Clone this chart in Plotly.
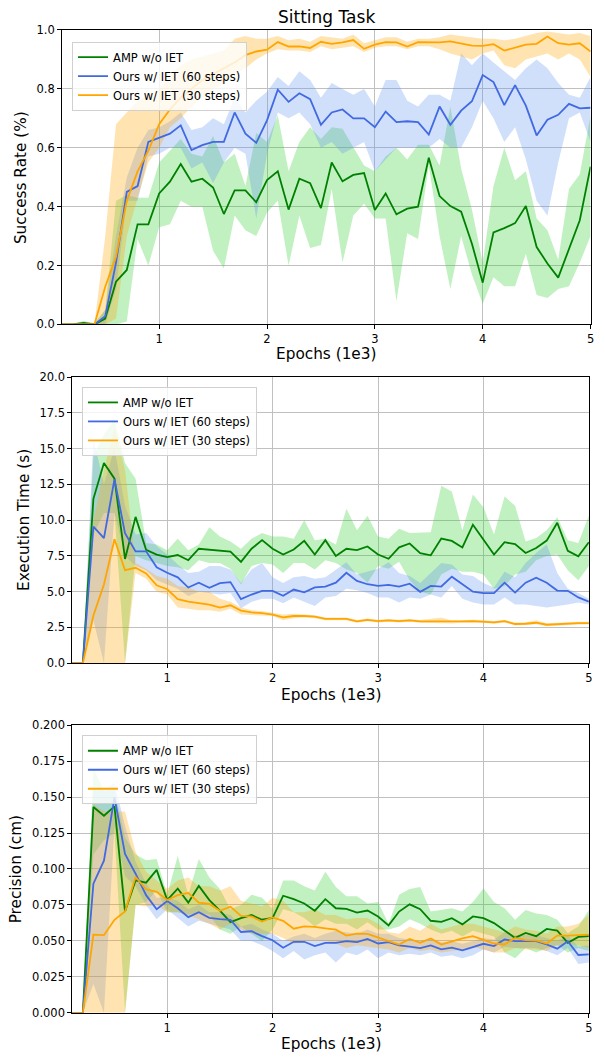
import plotly.graph_objects as go

# ---------------- data ----------------
EPOCHS = [0.1, 0.2, 0.3, 0.4, 0.5, 0.6, 0.7, 0.8, 0.9, 1.0,
          1.1, 1.2, 1.3, 1.4, 1.5, 1.6, 1.7, 1.8, 1.9, 2.0,
          2.1, 2.2, 2.3, 2.4, 2.5, 2.6, 2.7, 2.8, 2.9, 3.0,
          3.1, 3.2, 3.3, 3.4, 3.5, 3.6, 3.7, 3.8, 3.9, 4.0,
          4.1, 4.2, 4.3, 4.4, 4.5, 4.6, 4.7, 4.8, 4.9, 5.0]

SERIES_NAMES = ["AMP w/o IET", "Ours w/ IET (60 steps)", "Ours w/ IET (30 steps)"]
X_TICKS = [1, 2, 3, 4, 5]
X_TICK_LABELS = ["1", "2", "3", "4", "5"]

# --- Success rate ---
SR_AMP = [0.0, 0.0, 0.005, 0.0, 0.02, 0.145, 0.185, 0.34, 0.34, 0.445,
          0.485, 0.545, 0.485, 0.495, 0.465, 0.375, 0.455, 0.455, 0.415, 0.49,
          0.52, 0.39, 0.495, 0.48, 0.395, 0.55, 0.486, 0.508, 0.514, 0.389,
          0.445, 0.374, 0.393, 0.40, 0.566, 0.436, 0.402, 0.383, 0.274, 0.142,
          0.313, 0.327, 0.344, 0.402, 0.263, 0.207, 0.159, 0.257, 0.354, 0.536]
SR_AMP_LO = [0, 0, 0, 0, 0, 0.0, 0.01, 0.29, 0.2, 0.33,
             0.34, 0.42, 0.40, 0.40, 0.25, 0.19, 0.37, 0.32, 0.30, 0.38,
             0.42, 0.20, 0.37, 0.26, 0.27, 0.46, 0.21, 0.37, 0.41, 0.36,
             0.36, 0.08, 0.31, 0.29, 0.54, 0.30, 0.12, 0.30, 0.17, 0.07,
             0.16, 0.13, 0.13, 0.24, 0.10, 0.09, 0.12, 0.13, 0.21, 0.30]
SR_AMP_HI = [0, 0.003, 0.012, 0.005, 0.05, 0.42, 0.44, 0.43, 0.43, 0.55,
             0.59, 0.63, 0.58, 0.57, 0.64, 0.55, 0.58, 0.47, 0.65, 0.62,
             0.71, 0.52, 0.62, 0.67, 0.63, 0.67, 0.665, 0.60, 0.54, 0.52,
             0.57, 0.60, 0.56, 0.61, 0.61, 0.54, 0.74, 0.53, 0.39, 0.21,
             0.47, 0.60, 0.49, 0.52, 0.36, 0.32, 0.22, 0.46, 0.51, 0.71]

SR_60 = [0, 0, 0, 0, 0.028, 0.21, 0.45, 0.47, 0.62, 0.635,
         0.648, 0.676, 0.592, 0.609, 0.62, 0.62, 0.72, 0.648, 0.617, 0.693,
         0.797, 0.756, 0.785, 0.765, 0.678, 0.72, 0.73, 0.70, 0.70, 0.67,
         0.723, 0.687, 0.69, 0.687, 0.645, 0.74, 0.678, 0.726, 0.758, 0.847,
         0.823, 0.745, 0.813, 0.743, 0.642, 0.695, 0.712, 0.749, 0.734, 0.736]
SR_60_LO = [0, 0, 0, 0, 0.0, 0.12, 0.42, 0.42, 0.57, 0.58,
            0.60, 0.60, 0.53, 0.55, 0.48, 0.55, 0.60, 0.58, 0.36, 0.58,
            0.72, 0.70, 0.72, 0.68, 0.60, 0.62, 0.58, 0.60, 0.62, 0.52,
            0.56, 0.60, 0.60, 0.60, 0.60, 0.63, 0.60, 0.60, 0.67, 0.76,
            0.70, 0.62, 0.67, 0.56, 0.42, 0.37, 0.55, 0.70, 0.72, 0.62]
SR_60_HI = [0, 0, 0, 0, 0.05, 0.30, 0.50, 0.60, 0.66, 0.67,
            0.69, 0.72, 0.66, 0.67, 0.70, 0.68, 0.77, 0.72, 0.76, 0.79,
            0.84, 0.81, 0.86, 0.83, 0.77, 0.82, 0.80, 0.78, 0.80, 0.74,
            0.83, 0.83, 0.76, 0.74, 0.78, 0.78, 0.76, 0.92, 0.88, 0.92,
            0.89, 0.86, 0.83, 0.87, 0.90, 0.87, 0.82, 0.78, 0.77, 0.84]

SR_30 = [0, 0, 0, 0, 0.128, 0.23, 0.42, 0.52, 0.59, 0.68,
         0.73, 0.77, 0.80, 0.83, 0.85, 0.87, 0.89, 0.915, 0.927, 0.933,
         0.959, 0.944, 0.944, 0.939, 0.96, 0.953, 0.958, 0.966, 0.936, 0.95,
         0.959, 0.958, 0.944, 0.959, 0.958, 0.958, 0.961, 0.955, 0.947, 0.946,
         0.952, 0.93, 0.94, 0.95, 0.953, 0.978, 0.955, 0.95, 0.955, 0.927]
SR_30_LO = [0, 0, 0, 0, 0.0, 0.02, 0.30, 0.43, 0.55, 0.60,
            0.67, 0.70, 0.74, 0.77, 0.80, 0.82, 0.85, 0.87, 0.90, 0.92,
            0.935, 0.93, 0.93, 0.925, 0.945, 0.935, 0.94, 0.945, 0.925, 0.94,
            0.945, 0.945, 0.935, 0.945, 0.945, 0.935, 0.92, 0.91, 0.90, 0.92,
            0.93, 0.88, 0.87, 0.90, 0.91, 0.92, 0.90, 0.92, 0.90, 0.84]
SR_30_HI = [0, 0, 0, 0, 0.30, 0.68, 0.72, 0.76, 0.78, 0.80,
            0.85, 0.88, 0.90, 0.91, 0.92, 0.93, 0.97, 0.98, 0.97, 0.97,
            0.98, 0.965, 0.97, 0.96, 0.98, 0.975, 0.97, 0.985, 0.955, 0.965,
            0.975, 0.975, 0.96, 0.97, 0.97, 0.975, 0.985, 0.98, 0.975, 0.97,
            0.97, 0.965, 0.97, 0.98, 0.99, 0.995, 0.99, 0.985, 0.99, 0.98]

# --- Execution time ---
ET_AMP = [0, 0, 11.49, 14.0, 12.9, 7.29, 10.23, 7.93, 7.59, 7.42,
          7.56, 7.2, 8.0, 7.95, 7.85, 7.8, 7.08, 8.0, 8.6, 8.0,
          7.6, 7.95, 8.55, 7.6, 8.6, 7.5, 8.0, 7.9, 8.16, 7.6,
          7.3, 8.1, 8.37, 7.7, 7.54, 8.71, 8.55, 8.09, 9.68, 8.62,
          7.59, 8.46, 8.32, 7.7, 8.05, 8.57, 9.82, 7.86, 7.47, 8.46]
ET_AMP_LO = [0, 0, 9.0, 10.5, 10.5, 0.0, 7.5, 7.2, 7.0, 6.8,
             6.7, 6.5, 7.2, 7.0, 7.0, 6.6, 5.5, 6.8, 7.0, 6.9,
             6.3, 7.0, 7.0, 6.55, 7.2, 7.0, 6.55, 6.3, 5.6, 6.8,
             6.6, 7.1, 5.8, 5.0, 4.8, 6.2, 6.6, 6.4, 6.4, 6.2,
             5.2, 5.4, 6.2, 6.4, 7.2, 7.5, 7.6, 6.5, 5.8, 6.8]
ET_AMP_HI = [0, 0, 14.5, 16.0, 17.0, 14.0, 12.9, 8.4, 8.3, 7.9,
             8.7, 7.9, 8.3, 9.5, 8.85, 8.5, 8.0, 8.7, 9.1, 8.85,
             8.85, 8.7, 10.0, 8.6, 8.7, 8.3, 10.8, 9.3, 10.3, 8.85,
             8.7, 9.4, 9.1, 9.1, 9.15, 12.4, 12.0, 9.3, 11.8, 10.9,
             9.0, 11.65, 11.0, 8.5, 8.75, 9.3, 10.2, 8.6, 8.4, 10.3]

ET_60 = [0, 0, 9.54, 8.74, 12.87, 9.08, 7.82, 7.82, 6.71, 6.32,
         6.0, 5.29, 5.63, 5.27, 5.6, 5.67, 4.48, 4.8, 5.05, 5.05,
         4.71, 5.15, 4.95, 5.3, 5.35, 5.63, 6.32, 5.75, 5.52, 5.4,
         5.47, 5.36, 5.56, 4.99, 5.4, 5.36, 6.05, 5.52, 5.0, 4.9,
         4.9, 5.63, 4.94, 5.63, 5.98, 5.63, 5.08, 5.06, 4.6, 4.3]
ET_60_LO = [0, 0, 3.0, 0.0, 10.5, 7.5, 6.8, 6.5, 5.8, 5.5,
            5.2, 4.7, 5.0, 4.9, 4.8, 4.9, 3.84, 4.3, 4.5, 4.5,
            4.2, 4.6, 4.3, 4.0, 4.6, 4.7, 5.2, 5.1, 4.9, 4.6,
            4.6, 4.25, 4.6, 4.5, 4.8, 4.6, 5.4, 4.5, 4.25, 4.1,
            4.1, 4.6, 4.1, 4.1, 4.0, 3.9, 4.0, 4.1, 4.25, 4.1]
ET_60_HI = [0, 0, 15.7, 12.5, 15.0, 11.0, 9.0, 9.1, 8.2, 7.6,
            6.9, 6.3, 6.4, 6.8, 6.8, 6.55, 5.6, 6.55, 7.0, 6.0,
            5.6, 6.0, 6.1, 5.9, 6.0, 6.55, 7.06, 6.2, 6.4, 6.6,
            7.06, 6.3, 6.1, 5.6, 6.3, 7.0, 6.9, 6.2, 6.1, 5.6,
            5.3, 6.4, 6.0, 7.0, 7.7, 8.3, 6.3, 5.2, 4.9, 4.5]

ET_30 = [0, 0, 3.33, 5.5, 8.67, 6.5, 6.67, 6.28, 5.45, 5.17,
         4.48, 4.3, 4.2, 4.1, 3.89, 4.05, 3.68, 3.55, 3.5, 3.4,
         3.2, 3.3, 3.3, 3.25, 3.1, 3.08, 3.1, 2.92, 3.03, 2.94,
         2.99, 2.94, 2.99, 2.92, 2.92, 2.87, 2.87, 2.92, 2.94, 2.92,
         2.85, 2.94, 2.74, 2.76, 2.83, 2.69, 2.74, 2.78, 2.8, 2.8]
ET_30_LO = [0, 0, 0, 0, 0, 0, 6.3, 5.9, 5.0, 4.8,
            3.9, 3.8, 3.7, 3.7, 3.6, 3.8, 3.4, 3.4, 3.35, 3.3,
            3.0, 3.15, 3.2, 3.15, 3.0, 2.98, 3.0, 2.82, 2.93, 2.84,
            2.89, 2.84, 2.89, 2.82, 2.82, 2.77, 2.77, 2.82, 2.84, 2.82,
            2.75, 2.84, 2.64, 2.66, 2.73, 2.59, 2.64, 2.68, 2.7, 2.7]
ET_30_HI = [0, 0, 10.0, 13.5, 16.5, 13.5, 7.0, 6.6, 6.1, 5.9,
            5.4, 5.3, 5.0, 5.0, 4.5, 4.3, 3.9, 3.7, 3.65, 3.5,
            3.4, 3.45, 3.4, 3.35, 3.2, 3.18, 3.2, 3.02, 3.13, 3.04,
            3.09, 3.04, 3.09, 3.02, 3.1, 3.2, 2.97, 3.02, 3.04, 3.02,
            2.95, 3.04, 2.84, 2.86, 3.0, 2.79, 2.84, 2.88, 2.9, 2.9]

# --- Precision ---
PR_AMP = [0, 0, 0.1431, 0.137, 0.1435, 0.0704, 0.0921, 0.0905, 0.0994, 0.0784,
          0.0864, 0.0766, 0.0882, 0.0784, 0.0711, 0.063, 0.0658, 0.068, 0.0647, 0.066,
          0.0814, 0.079, 0.076, 0.071, 0.079, 0.0727, 0.0722, 0.0697, 0.0711, 0.067,
          0.0608, 0.0704, 0.0754, 0.072, 0.064, 0.0633, 0.0658, 0.0615, 0.067, 0.0658,
          0.0624, 0.0574, 0.0521, 0.0555, 0.0533, 0.0583, 0.0571, 0.0487, 0.0528, 0.0533]
PR_AMP_LO = [0, 0, 0.11, 0.12, 0.125, 0.0, 0.075, 0.077, 0.085, 0.07,
             0.07, 0.068, 0.07, 0.068, 0.058, 0.055, 0.06, 0.055, 0.05, 0.058,
             0.072, 0.07, 0.066, 0.06, 0.065, 0.062, 0.062, 0.058, 0.063, 0.058,
             0.058, 0.06, 0.065, 0.062, 0.058, 0.055, 0.057, 0.053, 0.057, 0.055,
             0.053, 0.042, 0.038, 0.045, 0.042, 0.045, 0.047, 0.042, 0.045, 0.043]
PR_AMP_HI = [0, 0, 0.17, 0.154, 0.155, 0.122, 0.11, 0.106, 0.107, 0.082,
             0.109, 0.082, 0.107, 0.094, 0.086, 0.072, 0.075, 0.082, 0.08, 0.072,
             0.092, 0.092, 0.088, 0.085, 0.098, 0.0875, 0.081, 0.081, 0.076, 0.077,
             0.062, 0.082, 0.086, 0.0875, 0.0704, 0.0715, 0.0727, 0.0704, 0.077, 0.0864,
             0.077, 0.0727, 0.0647, 0.0715, 0.069, 0.068, 0.0647, 0.0555, 0.06, 0.0715]

PR_60 = [0, 0, 0.0898, 0.1058, 0.1497, 0.1104, 0.0967, 0.0818, 0.072, 0.0777,
         0.0727, 0.0665, 0.07, 0.066, 0.0651, 0.0647, 0.0562, 0.0567, 0.0533, 0.0505,
         0.0453, 0.0494, 0.0494, 0.0464, 0.0487, 0.0487, 0.0498, 0.0491, 0.0514, 0.0482,
         0.0491, 0.0469, 0.046, 0.045, 0.0469, 0.0441, 0.0453, 0.0434, 0.0457, 0.048,
         0.0464, 0.051, 0.0498, 0.0498, 0.0498, 0.0475, 0.0446, 0.0498, 0.0402, 0.0407]
PR_60_LO = [0, 0, 0.02, 0.0, 0.13, 0.095, 0.088, 0.075, 0.065, 0.072,
            0.066, 0.06, 0.064, 0.062, 0.06, 0.058, 0.05, 0.05, 0.047, 0.043,
            0.038, 0.043, 0.037, 0.04, 0.042, 0.035, 0.042, 0.04, 0.044, 0.038,
            0.042, 0.04, 0.041, 0.04, 0.042, 0.039, 0.04, 0.038, 0.04, 0.044,
            0.042, 0.046, 0.045, 0.045, 0.045, 0.043, 0.04, 0.045, 0.034, 0.035]
PR_60_HI = [0, 0, 0.155, 0.155, 0.16, 0.13, 0.105, 0.09, 0.08, 0.08,
            0.078, 0.072, 0.075, 0.07, 0.07, 0.068, 0.06, 0.062, 0.058, 0.055,
            0.05, 0.053, 0.055, 0.052, 0.055, 0.057, 0.056, 0.055, 0.058, 0.055,
            0.055, 0.052, 0.051, 0.05, 0.052, 0.049, 0.05, 0.048, 0.05, 0.052,
            0.051, 0.056, 0.054, 0.054, 0.054, 0.052, 0.05, 0.054, 0.046, 0.047]

PR_30 = [0, 0, 0.0544, 0.054, 0.0647, 0.0704, 0.0944, 0.0859, 0.0841, 0.0784,
         0.0818, 0.0834, 0.0766, 0.0757, 0.0709, 0.0738, 0.0674, 0.067, 0.0635, 0.0663,
         0.064, 0.0585, 0.0601, 0.0597, 0.0587, 0.0578, 0.0537, 0.055, 0.0549, 0.0521,
         0.0498, 0.0475, 0.0514, 0.0487, 0.0517, 0.0475, 0.0498, 0.0517, 0.0533, 0.0505,
         0.0482, 0.0475, 0.0521, 0.0505, 0.0503, 0.0482, 0.0537, 0.0537, 0.054, 0.0544]
PR_30_LO = [0, 0, 0, 0, 0, 0, 0.075, 0.074, 0.075, 0.07,
            0.07, 0.068, 0.065, 0.062, 0.058, 0.062, 0.058, 0.055, 0.055, 0.055,
            0.052, 0.048, 0.05, 0.05, 0.05, 0.048, 0.045, 0.047, 0.046, 0.045,
            0.044, 0.042, 0.045, 0.043, 0.044, 0.042, 0.043, 0.044, 0.046, 0.044,
            0.042, 0.042, 0.045, 0.044, 0.044, 0.043, 0.047, 0.048, 0.047, 0.045]
PR_30_HI = [0, 0, 0.145, 0.14, 0.14, 0.14, 0.112, 0.098, 0.092, 0.086,
            0.092, 0.094, 0.088, 0.088, 0.085, 0.088, 0.078, 0.076, 0.074, 0.08,
            0.078, 0.07, 0.07, 0.072, 0.068, 0.068, 0.065, 0.066, 0.066, 0.062,
            0.056, 0.055, 0.06, 0.057, 0.062, 0.058, 0.06, 0.062, 0.062, 0.06,
            0.058, 0.056, 0.06, 0.058, 0.057, 0.055, 0.06, 0.06, 0.062, 0.068]

Y_TICKS_SR = [0.0, 0.2, 0.4, 0.6, 0.8, 1.0]
Y_TICKS_ET = [0.0, 2.5, 5.0, 7.5, 10.0, 12.5, 15.0, 17.5, 20.0]
Y_TICKS_PR = [0.0, 0.025, 0.05, 0.075, 0.1, 0.125, 0.15, 0.175, 0.2]

# ---------------- style ----------------
W, H = 605, 1061
FONT = "DejaVu Sans"
LINE_COLORS = ["#008000", "#4169E1", "#FFA500"]
FILL_COLORS = ["rgba(50,205,50,0.3)", "rgba(100,149,237,0.3)", "rgba(255,165,0,0.3)"]

panels = [
    dict(series=[(SR_AMP, SR_AMP_LO, SR_AMP_HI), (SR_60, SR_60_LO, SR_60_HI), (SR_30, SR_30_LO, SR_30_HI)],
         xpx=(62.5, 594.5), ypx=(23.3, 321.7), yrange=[0, 1], yticks=Y_TICKS_SR, fmt="{:.1f}",
         ylabel="Success Rate (%)", ylabel_x=21, xlabel_y=351.7, legend_xy=(72.5, 35)),
    dict(series=[(ET_AMP, ET_AMP_LO, ET_AMP_HI), (ET_60, ET_60_LO, ET_60_HI), (ET_30, ET_30_LO, ET_30_HI)],
         xpx=(72.8, 592.8), ypx=(375, 665), yrange=[0, 20], yticks=Y_TICKS_ET, fmt="{:.1f}",
         ylabel="Execution Time (s)", ylabel_x=24, xlabel_y=696.7, legend_xy=(82.5, 385)),
    dict(series=[(PR_AMP, PR_AMP_LO, PR_AMP_HI), (PR_60, PR_60_LO, PR_60_HI), (PR_30, PR_30_LO, PR_30_HI)],
         xpx=(72.8, 592.8), ypx=(727.7, 1019.3), yrange=[0, 0.2], yticks=Y_TICKS_PR, fmt="{:.3f}",
         ylabel="Precision (cm)", ylabel_x=16.5, xlabel_y=1050.7, legend_xy=(82.5, 738)),
]

fig = go.Figure()
annotations = []
layout_axes = {}

for k, p in enumerate(panels):
    sfx = "" if k == 0 else str(k + 1)
    xa, ya = "x" + sfx, "y" + sfx
    leg = "legend" if k == 0 else "legend" + str(k + 1)
    # shaded bands first
    for j, (mean, lo, hi) in enumerate(p["series"]):
        fig.add_trace(go.Scatter(
            x=EPOCHS + EPOCHS[::-1], y=hi + lo[::-1], xaxis=xa, yaxis=ya,
            fill="toself", fillcolor=FILL_COLORS[j], line=dict(width=0),
            mode="lines", hoverinfo="skip", showlegend=False))
    for j, (mean, lo, hi) in enumerate(p["series"]):
        fig.add_trace(go.Scatter(
            x=EPOCHS, y=mean, xaxis=xa, yaxis=ya, mode="lines",
            line=dict(color=LINE_COLORS[j], width=1.8), name=SERIES_NAMES[j],
            legend=leg, showlegend=True))

    x0, x1 = p["xpx"]
    y0, y1 = p["ypx"]
    common = dict(showline=True, mirror=True, linecolor="black", linewidth=1,
                  ticks="outside", ticklen=4, tickwidth=1, tickcolor="black",
                  showgrid=True, gridcolor="#c0c0c0", gridwidth=1.2, zeroline=False,
                  tickfont=dict(family=FONT, size=11.5, color="black"))
    layout_axes["xaxis" + sfx] = dict(
        common, domain=[x0 / W, x1 / W], range=[EPOCHS[0], EPOCHS[-1]],
        anchor=ya, tickmode="array", tickvals=X_TICKS, ticktext=X_TICK_LABELS)
    layout_axes["yaxis" + sfx] = dict(
        common, domain=[1 - y1 / H, 1 - y0 / H], range=p["yrange"], anchor=xa,
        tickmode="array", tickvals=p["yticks"], ticktext=[p["fmt"].format(v) for v in p["yticks"]])
    layout_axes[leg] = dict(
        x=p["legend_xy"][0] / W, y=1 - p["legend_xy"][1] / H, xanchor="left", yanchor="top",
        bgcolor="rgba(255,255,255,0.8)", bordercolor="#d0d0d0", borderwidth=1,
        font=dict(family=FONT, size=11.5, color="black"), itemwidth=30,
        tracegroupgap=0)
    annotations.append(dict(
        text="Epochs (1e3)", xref="paper", yref="paper", x=(x0 + x1) / 2 / W,
        y=1 - p["xlabel_y"] / H, xanchor="center", yanchor="middle", showarrow=False,
        font=dict(family=FONT, size=15.3, color="black")))
    annotations.append(dict(
        text=p["ylabel"], xref="paper", yref="paper", x=p["ylabel_x"] / W,
        y=1 - (y0 + y1) / 2 / H, xanchor="center", yanchor="middle", showarrow=False,
        textangle=-90, font=dict(family=FONT, size=15.3, color="black")))

annotations.append(dict(
    text="Sitting Task", xref="paper", yref="paper", x=328.5 / W, y=1 - 10.5 / H,
    xanchor="center", yanchor="middle", showarrow=False,
    font=dict(family=FONT, size=17, color="black")))

fig.update_layout(
    width=W, height=H, margin=dict(l=0, r=0, t=0, b=0),
    paper_bgcolor="white", plot_bgcolor="white",
    font=dict(family=FONT, color="black"),
    annotations=annotations, **layout_axes)

fig.write_html("out.html", config={"displayModeBar": False},
               post_script="document.body.style.margin='0px';document.body.style.overflow='hidden';")
